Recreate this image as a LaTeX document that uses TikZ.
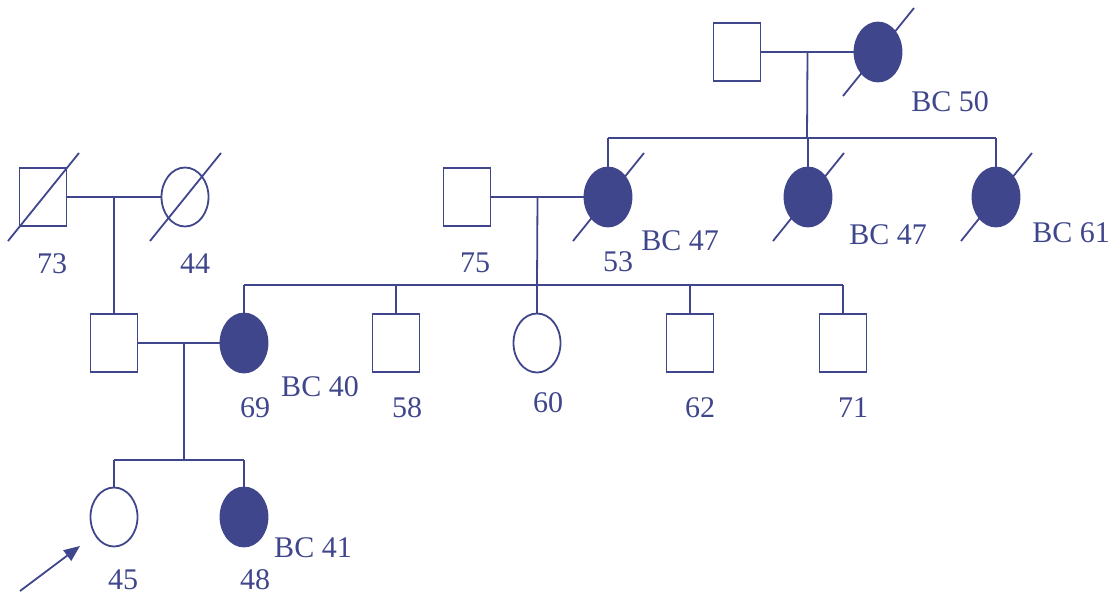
\documentclass[tikz,border=0pt]{standalone}
\usepackage{fontspec}
\setmainfont{Liberation Serif}
\usetikzlibrary{arrows.meta}
\usetikzlibrary{calc}
\usetikzlibrary{shapes.geometric}
\usepackage{xcolor}

\definecolor{pednavy}{RGB}{64,70,140}

\tikzset{
  male/.style={draw=pednavy, line width=1.8pt, rectangle, minimum width=47pt, minimum height=58pt, inner sep=0pt},
  female/.style={draw=pednavy, line width=1.8pt, ellipse, minimum width=47pt, minimum height=59pt, inner sep=0pt},
  affected/.style={fill=pednavy},
  age/.style={text=pednavy, font=\fontsize{30}{33}\selectfont, inner sep=0pt},
  pedline/.style={draw=pednavy, line width=1.8pt}
}

\newcommand{\deceased}[1]{\draw[pedline] ($(#1)+(-35,44)$) -- ($(#1)+(36,-44)$);}

\begin{document}
\begin{tikzpicture}[x=1pt,y=-1pt]

        \useasboundingbox (0,0) rectangle (1115,597);

        % Grandparents (right)
        \node[male] (gpm) at (737,52) {};
        \node[female,affected] (gpf) at (878,52) {};
        \deceased{gpf}

        % Grandparents (left)
        \node[male] (lgm) at (43,197) {};
        \node[female] (lgf) at (185,197) {};
        \deceased{lgm}
        \deceased{lgf}

        % Second generation
        \node[male] (m75) at (467,197) {};
        \node[female,affected] (f53) at (608,197) {};
        \node[female,affected] (f47) at (808,197) {};
        \node[female,affected] (f61) at (996,197) {};
        \foreach \n in {f53,f47,f61}
        {
          \deceased{\n}
        }

        % Third generation
        \node[male] (father) at (114,343) {};
        \node[female,affected] (f69) at (244,343) {};
        \node[male] (m58) at (396,343) {};
        \node[female] (f60) at (537,343) {};
        \node[male] (m62) at (690,343) {};
        \node[male] (m71) at (843,343) {};

        % Fourth generation
        \node[female] (f45) at (114,517) {};
        \node[female,affected] (f48) at (244,517) {};

        % Couples
        \draw[pedline] (gpm.east) -- (gpf.west);
        \draw[pedline] (lgm.east) -- (lgf.west);
        \draw[pedline] (m75.east) -- (f53.west);
        \draw[pedline] (father.east) -- (f69.west);

        % Descent and sibships
        \coordinate (top) at ($(gpm.east)!0.5!(gpf.west)$);
        \coordinate (topsib) at (807,138);
        \draw[pedline] (top) -- (topsib);
        \draw[pedline] (f53.north |- topsib) -- (f61.north |- topsib);
        \foreach \n in {f53,f47,f61}
        {
          \draw[pedline] (\n.north |- topsib) -- (\n.north);
        }

        \coordinate (left) at ($(lgm.east)!0.5!(lgf.west)$);
        \draw[pedline] (left) -- (father.north);

        \coordinate (mid) at ($(m75.east)!0.5!(f53.west)$);
        \coordinate (midsib) at (537,285);
        \draw[pedline] (mid) -- (midsib);
        \draw[pedline] (f69.north |- midsib) -- (m71.north |- midsib);
        \foreach \n in {f69,m58,f60,m62,m71}
        {
          \draw[pedline] (\n.north |- midsib) -- (\n.north);
        }

        \coordinate (low) at (184,343);
        \coordinate (lowsib) at (184,460);
        \draw[pedline] (low) -- (lowsib);
        \draw[pedline] (f45.north |- lowsib) -- (f48.north |- lowsib);
        \foreach \n in {f45,f48}
        {
          \draw[pedline] (\n.north |- lowsib) -- (\n.north);
        }

        % Proband
        \coordinate (pbtail) at (20,591);
        \coordinate (pbhead) at (80,546);
        \draw[pedline,-{Triangle[length=16pt,width=13pt]}] (pbtail) -- (pbhead);

        % Labels
        \node[age] (lbc50) at (950,102) {BC 50};
        \node[age] (l73) at (52,264) {73};
        \node[age] (l44) at (195,264) {44};
        \node[age] (l75) at (475,263) {75};
        \node[age] (l53) at (618,262) {53};
        \node[age] (lbc47a) at (680,241) {BC 47};
        \node[age] (lbc47b) at (888,235) {BC 47};
        \node[age] (lbc61) at (1071,233) {BC 61};
        \node[age] (l69) at (255,408) {69};
        \node[age] (lbc40) at (320,387) {BC 40};
        \node[age] (l58) at (407,408) {58};
        \node[age] (l60) at (548,403) {60};
        \node[age] (l62) at (700,408) {62};
        \node[age] (l71) at (853,408) {71};
        \node[age] (l45) at (123,580) {45};
        \node[age] (l48) at (255,580) {48};
        \node[age] (lbc41) at (313,548) {BC 41};

\end{tikzpicture}
\end{document}
